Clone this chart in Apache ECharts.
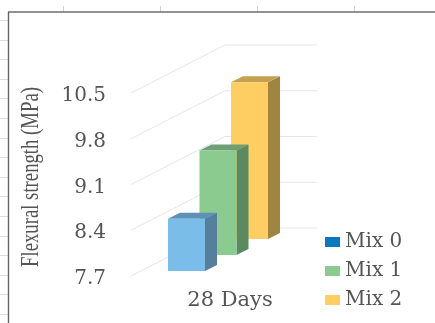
<!DOCTYPE html>
<html>
<head>
<meta charset="utf-8">
<style>html,body{margin:0;padding:0;background:#fff}#chart{width:435px;height:323px}</style>
<script src="https://cdn.jsdelivr.net/npm/echarts@6/dist/echarts.min.js"></script>
</head>
<body>
<div id="chart"></div>
<script>
// Flexural strength at 28 days for three mixes, drawn as pseudo-3D columns.
const categories = ['28 Days'];
const seriesNames = ['Mix 0', 'Mix 1', 'Mix 2'];
const mix0 = [8.5];
const mix1 = [9.3];
const mix2 = [10.1];
const yTicks = [7.7, 8.4, 9.1, 9.8, 10.5];
const axisTitle = 'Flexural strength (MPa)';

const legendColors = ['#0a78be', '#8ccb8f', '#ffce63'];
const faces = [
  { front: '#7abde8', side: '#557f9c', top: '#5f90b5' },
  { front: '#8ccb8f', side: '#5b8a60', top: '#6da074' },
  { front: '#ffce63', side: '#a08540', top: '#c4a04f' }
];
const BAR_W = 37, DX = 12, DY = 6;          // column face width and depth vector
const SLOT = [-62, -30.5, 1];               // front-left x relative to the category centre
const LIFT = [5, 21, 37];                   // how far back each column stands

function columnRenderer(i) {
  return function (params, api) {
    const top = api.coord([api.value(0), api.value(1)]);
    const base = api.coord([api.value(0), yTicks[0]]);
    const x = top[0] + SLOT[i];
    const yT = top[1] - LIFT[i];
    const yB = base[1] - LIFT[i];
    const poly = (pts, fill) => ({ type: 'polygon', shape: { points: pts }, style: { fill: fill } });
    return {
      type: 'group',
      children: [
        poly([[x + BAR_W, yT], [x + BAR_W + DX, yT - DY], [x + BAR_W + DX, yB - DY], [x + BAR_W, yB]], faces[i].side),
        poly([[x, yT], [x + DX, yT - DY], [x + BAR_W + DX, yT - DY], [x + BAR_W, yT]], faces[i].top),
        poly([[x, yT], [x + BAR_W, yT], [x + BAR_W, yB], [x, yB]], faces[i].front)
      ]
    };
  };
}

// Back-wall rules: a receding diagonal followed by a flat run for each tick.
function wallRenderer(params, api) {
  const y = api.coord([0, api.value(0)])[1];
  const x = params.coordSys.x;
  return {
    type: 'polyline',
    shape: { points: [[x, y], [x + 94, y - 48], [x + 186, y - 48]] },
    style: { fill: 'none', stroke: '#e6e6e6', lineWidth: 1 }
  };
}

const values = [mix0, mix1, mix2];
const columnSeries = seriesNames.map((name, i) => ({
  type: 'custom',
  name: name,
  z: 5 - i,
  itemStyle: { color: legendColors[i] },
  encode: { x: 0, y: 1 },
  data: values[i].map((v, k) => [k, v]),
  renderItem: columnRenderer(i)
}));

// Page furniture around the plot: frame rule and the ruler ticks outside it.
const furniture = [];
const rule = (x1, y1, x2, y2, color, w) => furniture.push({
  type: 'line', silent: true,
  shape: { x1, y1, x2, y2 },
  style: { stroke: color, lineWidth: w }
});
[63.5, 160.5, 257.5, 354.5].forEach(x => rule(x, 6, x, 12, '#d4d4d4', 1));
for (let y = 20; y < 323; y += 19.6) rule(0, Math.round(y) + 0.5, 8, Math.round(y) + 0.5, '#dddddd', 1);
rule(8, 12, 435, 12, '#6e6e6e', 1.4);
rule(8.5, 12, 8.5, 323, '#666666', 1.4);
furniture.push({
  type: 'text', silent: true, x: 31, y: 177, rotation: Math.PI / 2, scaleX: 0.72,
  style: {
    text: axisTitle, align: 'center', verticalAlign: 'middle',
    font: '26px "Liberation Serif"', fill: '#555555'
  }
});

const chart = echarts.init(document.getElementById('chart'), null, { renderer: 'canvas' });
chart.setOption({
  animation: false,
  backgroundColor: '#ffffff',
  graphic: furniture,
  grid: { left: 131, top: 93, width: 198, height: 183 },
  legend: {
    data: seriesNames, orient: 'vertical', left: 325, top: 231, padding: 0,
    itemWidth: 15, itemHeight: 10, itemGap: 7,
    icon: 'rect', selectedMode: false,
    textStyle: { fontFamily: 'DejaVu Serif', fontSize: 20, lineHeight: 22, color: '#555555' }
  },
  xAxis: {
    type: 'category', data: categories,
    axisLine: { show: false }, axisTick: { show: false },
    axisLabel: { margin: 14, fontFamily: 'DejaVu Serif', fontSize: 21, color: '#555555' }
  },
  yAxis: {
    type: 'value', min: yTicks[0], max: yTicks[yTicks.length - 1], interval: 0.7,
    axisLine: { show: false }, axisTick: { show: false }, splitLine: { show: false },
    axisLabel: {
      margin: 25,
      formatter: v => '{t|' + v.toFixed(1) + '}',
      rich: {
        t: { fontFamily: 'DejaVu Serif', fontSize: 20, color: '#555555', padding: [6, 0, 0, 0] }
      }
    }
  },
  series: [{
    type: 'custom', name: 'wall', z: 1, silent: true,
    encode: { y: 0 },
    data: yTicks.map(v => [v]),
    renderItem: wallRenderer
  }].concat(columnSeries)
});
</script>
</body>
</html>
